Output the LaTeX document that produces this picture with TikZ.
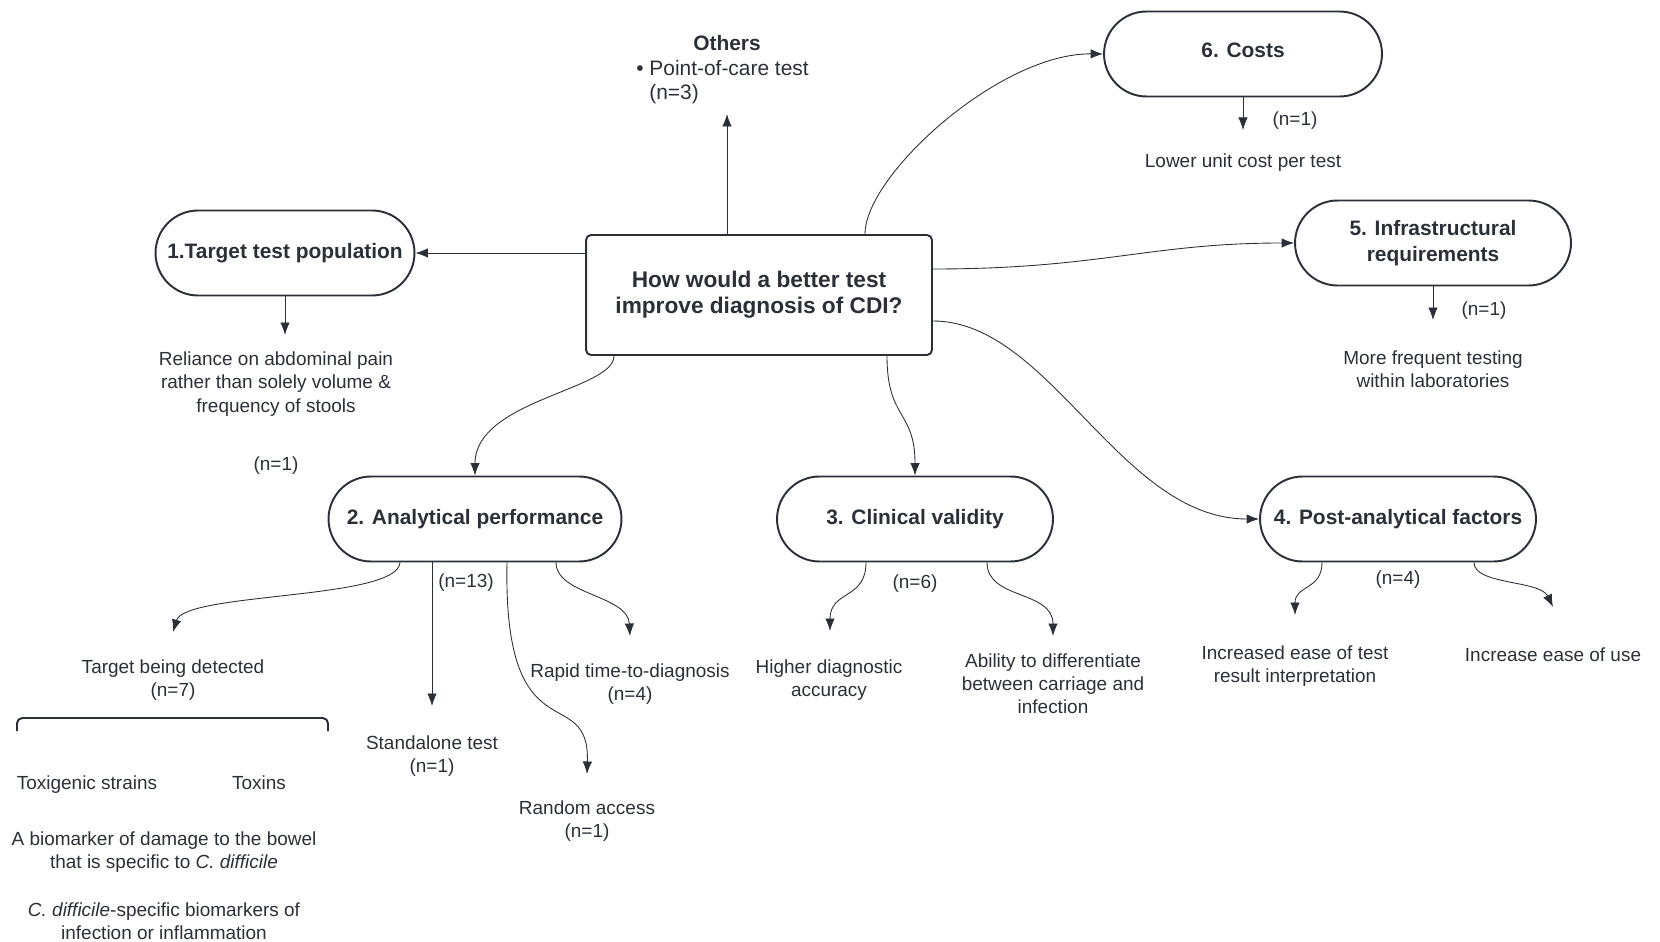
\documentclass[tikz,border=0pt]{standalone}
\usepackage{fontspec}
\setmainfont{Liberation Sans}
\usetikzlibrary{arrows.meta,calc}
\definecolor{ink}{RGB}{43,48,56}
\begin{document}
\begin{tikzpicture}[x=0.02cm,y=-0.02cm,
  every node/.style={text=ink,inner sep=0pt},
  hub/.style={draw=ink,line width=1.1pt,rounded corners=0.1cm,minimum width=6.92cm,minimum height=2.4cm,
    font=\fontsize{12.9}{15}\selectfont\bfseries,align=center},
  cat/.style={draw=ink,line width=1.1pt,rounded corners=0.85cm,minimum height=1.7cm,
    font=\fontsize{11.9}{14.4}\selectfont\bfseries,align=center},
  leaf/.style={font=\fontsize{10.8}{13.2}\selectfont,align=center},
  conn/.style={draw=ink,line width=0.5pt,-{Latex[length=2.5mm,width=1.9mm]}},
]
\useasboundingbox (0,0) rectangle (1660,942);

% central question and the six categories
\node[hub] (c) at (759,295) {How would a better test\\improve diagnosis of CDI?};
\node[cat,minimum width=5.18cm] (n1) at (285,253) {1.Target test population};
\node[cat,minimum width=5.86cm] (n2) at (475,519) {2. Analytical performance};
\node[cat,minimum width=5.52cm] (n3) at (915,519) {3. Clinical validity};
\node[cat,minimum width=5.52cm] (n4) at (1398,519) {4. Post-analytical factors};
\node[cat,minimum width=5.52cm] (n5) at (1433,243) {5. Infrastructural\\requirements};
\node[cat,minimum width=5.56cm,text depth=0.45em] (n6) at (1243,54) {6. Costs};

% others
\node[font=\fontsize{11.9}{14.5}\selectfont\bfseries] (othT) at (727,43) {Others};
\node[font=\fontsize{11.9}{14.5}\selectfont,anchor=west] (othB) at (636,68) {• Point-of-care test};
\node[font=\fontsize{11.9}{14.5}\selectfont,anchor=west] (othN) at (649,94) {(n=3)};

% leaf texts
\node[leaf] (t1) at (276,384) {Reliance on abdominal pain\\rather than solely volume \&\\frequency of stools};
\node[leaf] (t1n) at (276,466) {(n=1)};
\node[leaf] (t6) at (1243,163) {Lower unit cost per test};
\node[leaf] (t6n) at (1295,121) {(n=1)};
\node[leaf] (t5) at (1433,369) {More frequent testing\\within laboratories};
\node[leaf] (t5n) at (1484,311) {(n=1)};

\node[leaf] (n13) at (466,583) {(n=13)};
\node[leaf] (tgt) at (173,680) {Target being detected\\(n=7)};
\node[leaf,anchor=base] (tox) at (87,789) {Toxigenic strains};
\node[leaf,anchor=base] (toxins) at (259,789) {Toxins};
\node[leaf] (bio1) at (164,852) {A biomarker of damage to the bowel\\that is specific to \textit{C. difficile}};
\node[leaf] (bio2) at (164,921) {\textit{C. difficile}-specific biomarkers of\\infection or inflammation};
\node[leaf] (sa) at (432,756) {Standalone test\\(n=1)};
\node[leaf] (ra) at (587,821) {Random access\\(n=1)};
\node[leaf] (rt) at (630,684) {Rapid time-to-diagnosis\\(n=4)};

\node[leaf] (n6c) at (915,584) {(n=6)};
\node[leaf] (hd) at (829,680) {Higher diagnostic\\accuracy};
\node[leaf] (ab) at (1053,684) {Ability to differentiate\\between carriage and\\infection};

\node[leaf] (n4c) at (1398,580) {(n=4)};
\node[leaf] (ie) at (1295,666) {Increased ease of test\\result interpretation};
\node[leaf] (iu) at (1553,655) {Increase ease of use};

% bracket over the target list
\draw[ink,line width=1.1pt,rounded corners=3] (17,731) -- (17,718) -- (328,718) -- (328,731);

% arrow tips ending in free space
\coordinate (oth) at (727,114);
\coordinate (d1) at (285,335);
\coordinate (d6) at (1243,130);
\coordinate (d5) at (1433,320);
\coordinate (tgtA) at (173,632);
\coordinate (saA) at (432,706);
\coordinate (raA) at (587,774);
\coordinate (rtA) at (630,636);
\coordinate (hdA) at (830,631);
\coordinate (abA) at (1053,636);
\coordinate (ieA) at (1295,615);
\coordinate (iuA) at (1553,607);

% from the central question
\draw[conn] ($(c.north)+(-32,0)$) -- (oth);
\draw[conn] ($(c.north)+(106,0)$) .. controls (865,175) and (1000,53) .. (n6.west);
\draw[conn] ($(c.east)+(0,-26)$) .. controls (1100,269) and (1150,243) .. (n5.west);
\draw[conn] (n1.east -| c.west) -- (n1.east);
\draw[conn] ($(c.south)+(-145,0)$) .. controls (614,390) and (475,400) .. (n2.north);
\draw[conn] ($(c.south)+(128,0)$) .. controls (887,420) and (915,410) .. (n3.north);
\draw[conn] ($(c.east)+(0,26)$) .. controls (1050,321) and (1120,519) .. (n4.west);

% categories to their items
\draw[conn] (n1.south) -- (d1);
\draw[conn] (n6.south) -- (d6);
\draw[conn] (n5.south) -- (d5);

\draw[conn] ($(n2.south)+(-75,0)$) .. controls (398,600) and (185,592) .. (tgtA);
\draw[conn] ($(n2.south)+(-43,0)$) -- (saA);
\draw[conn] ($(n2.south)+(32,0)$) .. controls (503,760) and (590,680) .. (raA);
\draw[conn] ($(n2.south)+(81,0)$) .. controls (556,595) and (628,595) .. (rtA);

\draw[conn] ($(n3.south)+(-49,0)$) .. controls (866,600) and (830,590) .. (hdA);
\draw[conn] ($(n3.south)+(72,0)$) .. controls (987,600) and (1053,590) .. (abA);

\draw[conn] ($(n4.south)+(-76,0)$) .. controls (1322,590) and (1295,585) .. (ieA);
\draw[conn] ($(n4.south)+(76,0)$) .. controls (1474,585) and (1540,580) .. (iuA);
\end{tikzpicture}
\end{document}
